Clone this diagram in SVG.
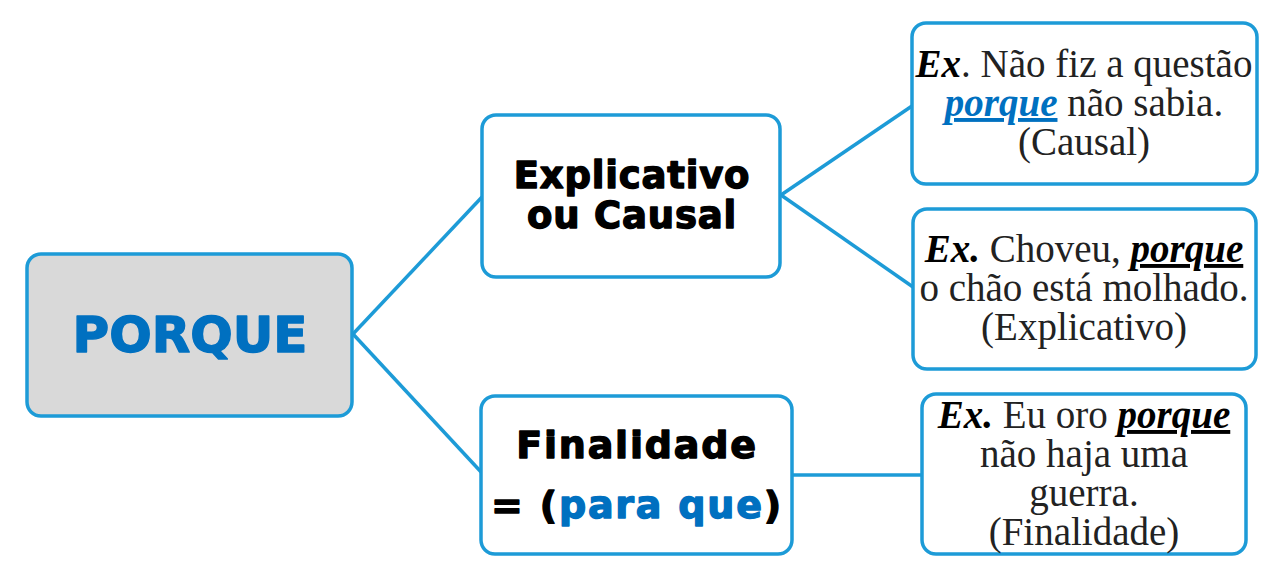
<svg xmlns="http://www.w3.org/2000/svg" width="1280" height="586" viewBox="0 0 1280 586">
<style>
.box{fill:#ffffff;stroke:#1d9bd7;stroke-width:3.5}
.root{fill:#d9d9d9;stroke:#1d9bd7;stroke-width:3.5}
.conn{stroke:#1d9bd7;stroke-width:3.5;fill:none}
.hd{font-family:"DejaVu Sans",sans-serif;font-weight:bold;text-anchor:middle;fill:#000;stroke:#000;stroke-width:1.4;stroke-linejoin:round}
.ex{font-family:"Liberation Serif","Times New Roman",serif;font-size:39px;text-anchor:middle;fill:#222}
.bi{font-weight:bold;font-style:italic}
.blue{fill:#0070c0;stroke:#0070c0}
</style>
<rect width="1280" height="586" fill="#ffffff"/>
<g id="connectors">
<line class="conn" x1="353" y1="334" x2="482" y2="197"/>
<line class="conn" x1="353" y1="334" x2="482" y2="473"/>
<line class="conn" x1="781" y1="195" x2="912" y2="106"/>
<line class="conn" x1="781" y1="195" x2="913" y2="287"/>
<line class="conn" x1="792" y1="475" x2="922" y2="475"/>
</g>
<g id="porque">
<rect class="root" x="27" y="254" width="325" height="162" rx="14"/>
<text class="hd blue" x="190" y="352" font-size="50">PORQUE</text>
</g>
<g id="explicativo">
<rect class="box" x="482" y="115" width="298" height="162" rx="14"/>
<text class="hd" x="632" y="188" font-size="37" letter-spacing="0.8">Explicativo</text>
<text class="hd" x="632" y="228" font-size="37" letter-spacing="0.8">ou Causal</text>
</g>
<g id="finalidade">
<rect class="box" x="481" y="396" width="311" height="158" rx="14"/>
<text class="hd" x="637" y="458" font-size="38" letter-spacing="1.8">Finalidade</text>
<text class="hd" x="637" y="518" font-size="38" letter-spacing="1.8">= (<tspan class="blue">para que</tspan>)</text>
</g>
<g id="ex-causal">
<rect class="box" x="912" y="23" width="345" height="161" rx="14"/>
<text class="ex" x="1084" y="77"><tspan class="bi" fill="#000">Ex</tspan>. Não fiz a questão</text>
<text class="ex" x="1084" y="116"><tspan class="bi" fill="#0070c0" text-decoration="underline">porque</tspan> não sabia.</text>
<text class="ex" x="1084" y="155">(Causal)</text>
</g>
<g id="ex-explicativo">
<rect class="box" x="913" y="209" width="343" height="160" rx="14"/>
<text class="ex" x="1084" y="262"><tspan class="bi" fill="#000">Ex.</tspan> Choveu, <tspan class="bi" fill="#000" text-decoration="underline">porque</tspan></text>
<text class="ex" x="1084" y="301">o chão está molhado.</text>
<text class="ex" x="1084" y="340">(Explicativo)</text>
</g>
<g id="ex-finalidade">
<rect class="box" x="922" y="394" width="324" height="160" rx="14"/>
<text class="ex" x="1084" y="428"><tspan class="bi" fill="#000">Ex.</tspan> Eu oro <tspan class="bi" fill="#000" text-decoration="underline">porque</tspan></text>
<text class="ex" x="1084" y="467">não haja uma</text>
<text class="ex" x="1084" y="506">guerra.</text>
<text class="ex" x="1084" y="545">(Finalidade)</text>
</g>
</svg>
